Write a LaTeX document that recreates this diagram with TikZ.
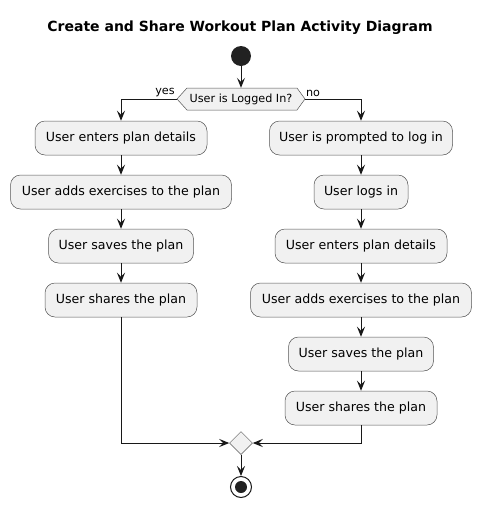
\documentclass[tikz,border=0pt]{standalone}
\usepackage{fontspec}
\setmainfont{DejaVu Sans}
\usetikzlibrary{shapes.geometric,arrows.meta}
\definecolor{boxfill}{HTML}{F1F1F1}
\definecolor{ink}{HTML}{181818}
\definecolor{edge}{HTML}{555555}
\definecolor{dot}{HTML}{222222}
\begin{document}
\begin{tikzpicture}[x=1pt,y=-1pt,
  act/.style={draw=edge,line width=0.5pt,fill=boxfill,rounded corners=10pt,
    minimum height=34pt,inner sep=0pt,font=\fontsize{12.6}{14}\selectfont},
  arr/.style={draw=ink,line width=1pt,-{Stealth[length=10pt,width=8pt,inset=4pt]}},
  lbl/.style={font=\fontsize{11.2}{13}\selectfont,inner sep=0pt}]
\useasboundingbox (0,0) rectangle (481,507);
\node[font=\bfseries\fontsize{14}{16}\selectfont] (title) at (240,28) {Create and Share Workout Plan Activity Diagram};
\node[circle,fill=dot,minimum size=20pt,inner sep=0pt] (s) at (241,56) {};
% decision
\fill[boxfill] (187,88) -- (297,88) -- (305,99) -- (297,110) -- (187,110) -- (177,99) -- cycle;
\draw[edge,line width=0.5pt] (187,88) -- (297,88) -- (305,99) -- (297,110) -- (187,110) -- (177,99) -- cycle;
\node[lbl,minimum width=110pt,minimum height=22pt] (dec) at (241,99) {User is Logged In?};
\coordinate (decL) at (177,99);
\coordinate (decR) at (305,99);
% left column
\node[act,minimum width=172pt] (l1) at (121,138) {User enters plan details};
\node[act,minimum width=221pt] (l2) at (121,192) {User adds exercises to the plan};
\node[act,minimum width=145pt] (l3) at (121,246) {User saves the plan};
\node[act,minimum width=152pt] (l4) at (121,300) {User shares the plan};
% right column
\node[act,minimum width=183pt] (r1) at (361,138) {User is prompted to log in};
\node[act,minimum width=94pt] (r2) at (361,192) {User logs in};
\node[act,minimum width=172pt] (r3) at (361,246) {User enters plan details};
\node[act,minimum width=221pt] (r4) at (361,300) {User adds exercises to the plan};
\node[act,minimum width=145pt] (r5) at (361,354) {User saves the plan};
\node[act,minimum width=152pt] (r6) at (361,408) {User shares the plan};
% merge and end
\node[diamond,draw=edge,line width=0.5pt,fill=boxfill,minimum width=23pt,minimum height=23pt,inner sep=0pt] (m) at (241,443) {};
\node[circle,draw=ink,line width=1pt,fill=white,minimum size=21pt,inner sep=0pt] (e) at (241,487) {};
\node[circle,fill=dot,minimum size=12pt,inner sep=0pt] (ei) at (e.center) {};
% labels
\node[lbl] (yes) at (165,93) {yes};
\node[lbl] (no) at (313,93) {no};
% connectors
\draw[arr] (s) -- (dec.north);
\draw[arr] (decL) -| (l1.north);
\draw[arr] (decR) -| (r1.north);
\draw[arr] (l1) -- (l2);
\draw[arr] (l2) -- (l3);
\draw[arr] (l3) -- (l4);
\draw[arr] (r1) -- (r2);
\draw[arr] (r2) -- (r3);
\draw[arr] (r3) -- (r4);
\draw[arr] (r4) -- (r5);
\draw[arr] (r5) -- (r6);
\draw[arr] (l4.south) |- (m.west);
\draw[arr] (r6.south) |- (m.east);
\draw[arr] (m.south) -- (e.north);
\end{tikzpicture}
\end{document}
